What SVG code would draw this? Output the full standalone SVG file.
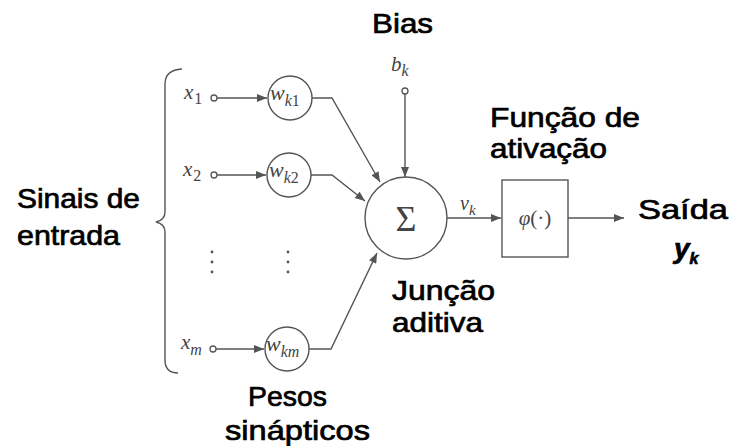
<svg xmlns="http://www.w3.org/2000/svg" width="731" height="446" viewBox="0 0 731 446">
  <style>
    .ln { fill: none; stroke: #555; stroke-width: 1.4; }
    .node { fill: #fff; stroke: #555; stroke-width: 1.4; }
    .port { fill: #fff; stroke: #555; stroke-width: 1.3; }
    .lbl { font-family: "Liberation Sans", Arial, sans-serif; font-size: 28px; fill: #000; stroke: #000; stroke-width: 0.7; }
    .math { font-family: "Liberation Serif", "Times New Roman", serif; font-style: italic; fill: #444; }
    .up { font-style: normal; }
    .dot { fill: #555; }
  </style>
  <defs>
    <marker id="arrow" viewBox="0 0 10 8" refX="10" refY="4" markerWidth="11" markerHeight="8" markerUnits="userSpaceOnUse" orient="auto">
      <path d="M0,0 L10,4 L0,8 z" fill="#555"/>
    </marker>
  </defs>

  <rect width="731" height="446" fill="#fff"/>

  <!-- brace grouping the inputs -->
  <path class="ln" d="M182,69 Q165,70 165,84 L165,212 Q165,220 156,222 Q165,224 165,232 L165,360 Q165,373 178,373"/>

  <g id="connectors">
    <line class="ln" x1="217" y1="98" x2="267" y2="98" marker-end="url(#arrow)"/>
    <line class="ln" x1="217" y1="175" x2="266" y2="175" marker-end="url(#arrow)"/>
    <line class="ln" x1="216" y1="349" x2="264" y2="349" marker-end="url(#arrow)"/>
    <polyline class="ln" points="312,98 332,98 380,182" marker-end="url(#arrow)"/>
    <polyline class="ln" points="311,175 332,175 365,201" marker-end="url(#arrow)"/>
    <polyline class="ln" points="309,349 331,349 377,253" marker-end="url(#arrow)"/>
    <line class="ln" x1="405" y1="94" x2="405" y2="177" marker-end="url(#arrow)"/>
    <line class="ln" x1="447" y1="218" x2="501" y2="218" marker-end="url(#arrow)"/>
    <line class="ln" x1="568" y1="218" x2="624" y2="218" marker-end="url(#arrow)"/>
  </g>

  <!-- inputs -->
  <g id="input-x1">
    <circle class="port" cx="214" cy="98" r="3"/>
    <text class="math" x="184" y="99" font-size="21">x<tspan class="up" font-size="16" dx="1" dy="5">1</tspan></text>
  </g>
  <g id="input-x2">
    <circle class="port" cx="214" cy="175" r="3"/>
    <text class="math" x="183" y="176" font-size="21">x<tspan class="up" font-size="16" dx="1" dy="5">2</tspan></text>
  </g>
  <g id="input-xm">
    <circle class="port" cx="213" cy="349" r="3"/>
    <text class="math" x="181" y="349" font-size="21">x<tspan font-size="16" dy="6">m</tspan></text>
  </g>
  <g id="input-dots">
    <circle class="dot" cx="212" cy="252" r="1.4"/>
    <circle class="dot" cx="212" cy="262" r="1.4"/>
    <circle class="dot" cx="212" cy="272" r="1.4"/>
  </g>

  <!-- synaptic weights -->
  <g id="weight-wk1">
    <circle class="node" cx="290" cy="98" r="22"/>
    <text class="math" x="270" y="100" font-size="22">w<tspan font-size="16" dy="6">k</tspan><tspan class="up" font-size="16">1</tspan></text>
  </g>
  <g id="weight-wk2">
    <circle class="node" cx="289" cy="175" r="22"/>
    <text class="math" x="269" y="177" font-size="22">w<tspan font-size="16" dy="6">k</tspan><tspan class="up" font-size="16">2</tspan></text>
  </g>
  <g id="weight-dots">
    <circle class="dot" cx="288" cy="252" r="1.4"/>
    <circle class="dot" cx="288" cy="262" r="1.4"/>
    <circle class="dot" cx="288" cy="272" r="1.4"/>
  </g>
  <g id="weight-wkm">
    <circle class="node" cx="287" cy="349" r="22"/>
    <text class="math" x="266" y="351" font-size="22">w<tspan font-size="16" dy="6">km</tspan></text>
  </g>

  <!-- bias -->
  <g id="bias">
    <circle class="port" cx="405" cy="91" r="3"/>
    <text class="math" x="391" y="71" font-size="21">b<tspan font-size="16" dy="5">k</tspan></text>
  </g>

  <!-- summing junction -->
  <g id="sum">
    <circle class="node" cx="406" cy="218" r="41"/>
    <text x="406" y="231" text-anchor="middle" font-family="Liberation Serif, serif" font-size="36" fill="#444">Σ</text>
  </g>
  <text class="math" x="460" y="210" font-size="20">v<tspan font-size="15" dy="5">k</tspan></text>

  <!-- activation function -->
  <g id="activation">
    <rect class="node" x="502" y="180" width="66" height="77"/>
    <text x="535" y="225" text-anchor="middle" font-family="Liberation Serif, serif" font-size="21" fill="#444"><tspan font-style="italic">φ</tspan>(·)</text>
  </g>

  <!-- labels -->
  <g id="labels">
    <text class="lbl" x="372" y="33" textLength="61" lengthAdjust="spacingAndGlyphs">Bias</text>
    <text class="lbl" x="17" y="208" textLength="123" lengthAdjust="spacingAndGlyphs">Sinais de</text>
    <text class="lbl" x="17" y="245" textLength="103" lengthAdjust="spacingAndGlyphs">entrada</text>
    <text class="lbl" x="490" y="127" textLength="150" lengthAdjust="spacingAndGlyphs">Função de</text>
    <text class="lbl" x="490" y="158" textLength="117" lengthAdjust="spacingAndGlyphs">ativação</text>
    <text class="lbl" x="638" y="219" textLength="90" lengthAdjust="spacingAndGlyphs">Saída</text>
    <text class="lbl" x="674" y="258" font-style="italic" font-weight="bold">y<tspan font-size="16" dy="6">k</tspan></text>
    <text class="lbl" x="392" y="300" textLength="103" lengthAdjust="spacingAndGlyphs">Junção</text>
    <text class="lbl" x="392" y="332" textLength="91" lengthAdjust="spacingAndGlyphs">aditiva</text>
    <text class="lbl" x="248" y="406" textLength="79" lengthAdjust="spacingAndGlyphs">Pesos</text>
    <text class="lbl" x="225" y="440" textLength="145" lengthAdjust="spacingAndGlyphs">sinápticos</text>
  </g>
</svg>
